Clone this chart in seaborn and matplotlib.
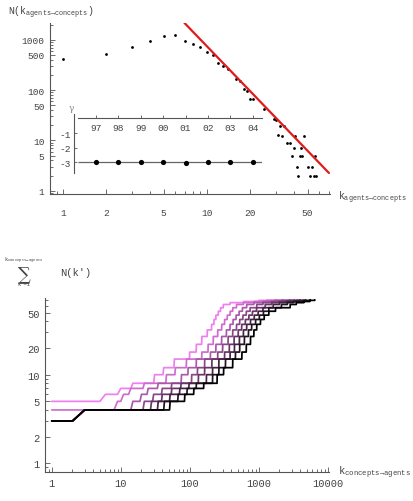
import numpy as np
import pandas as pd
import matplotlib
matplotlib.use("Agg")
import matplotlib.pyplot as plt
import matplotlib.ticker as ticker
import seaborn as sns

# ---------------- data ----------------
# top panel: degree distribution N(k) agents -> concepts
k_agents = [1, 2, 3, 4, 5, 6, 7, 8, 9, 10, 11, 12, 13, 14, 16, 17, 18, 19, 20, 21,
            25, 29, 30, 31, 32, 33, 34, 36, 38, 39, 40, 41, 42, 43, 44, 45, 46, 47,
            50, 52, 54, 55, 56, 57]
n_agents = [420, 510, 720, 930, 1170, 1230, 935, 830, 725, 575, 505, 350, 297, 260,
            165, 150, 105, 97, 66, 66, 42, 26, 25, 13, 19, 12, 19, 9, 9, 5, 7, 12,
            3, 2, 5, 7, 5, 12, 3, 2, 3, 2, 5, 2]

# power-law fit (slope about -3), end points of the red line
fit_k = [6.96, 70.3]
fit_n = [2160, 2.25]

# inset: exponent gamma per year
years = [1997, 1998, 1999, 2000, 2001, 2002, 2003, 2004]
year_labels = ["97", "98", "99", "00", "01", "02", "03", "04"]
gamma = [-2.98, -2.96, -3.0, -3.0, -3.02, -3.0, -3.0, -3.0]

# bottom panel: cumulative sum of N(k') concepts -> agents, one stair curve per year
# every curve starts at 3; k at which each year reaches the given level
start_level = 3
levels = [4, 5, 6, 7, 8, 10, 12, 15, 18, 22, 27, 32, 37, 42, 47, 52, 57, 62, 65, 67, 69, 70]
k_1997 = [1, 1, 6, 10, 15, 31, 42, 60, 100, 125, 150, 180, 208, 225, 240, 260, 280, 307, 384, 600, 1000, 1800]
k_1998 = [1, 9, 11, 14, 22, 46, 62, 90, 150, 185, 220, 255, 291, 320, 350, 385, 420, 477, 600, 850, 1300, 2200]
k_1999 = [3, 15, 20, 25, 35, 76, 95, 125, 200, 240, 290, 340, 384, 425, 470, 520, 580, 669, 850, 1150, 1700, 2800]
k_2000 = [3, 22, 30, 40, 55, 107, 130, 165, 255, 300, 360, 420, 477, 530, 590, 660, 750, 935, 1150, 1500, 2200, 3300]
k_2001 = [3, 28, 40, 55, 75, 134, 165, 210, 320, 375, 440, 505, 566, 640, 720, 810, 930, 1240, 1550, 1950, 2800, 4000]
k_2002 = [3, 35, 52, 72, 98, 175, 215, 265, 385, 445, 525, 600, 669, 760, 860, 980, 1150, 1620, 2000, 2500, 3500, 4800]
k_2003 = [3, 43, 68, 92, 125, 215, 265, 330, 460, 530, 620, 710, 790, 900, 1020, 1170, 1400, 2130, 2600, 3200, 4300, 5600]
k_2004 = [3, 52, 85, 115, 160, 250, 310, 420, 570, 660, 760, 850, 935, 1060, 1200, 1400, 1750, 2850, 3500, 4500, 5500, 6500]
k_by_year = dict(zip(years, [k_1997, k_1998, k_1999, k_2000, k_2001, k_2002, k_2003, k_2004]))

# ---------------- style ----------------
sns.set_style("ticks")
plt.rcParams["font.family"] = ["Liberation Mono", "DejaVu Sans"]
plt.rcParams["mathtext.fontset"] = "custom"
plt.rcParams["mathtext.rm"] = "Liberation Mono"
plt.rcParams["mathtext.it"] = "Liberation Mono"
axis_col = "#555555"
text_col = "#444444"

W, H = 414, 502
fig = plt.figure(figsize=(W / 100, H / 100), dpi=100)


def px_axes(x0, y0, x1, y1):
    # axes from pixel box (left, top, right, bottom)
    return fig.add_axes([x0 / W, 1 - y1 / H, (x1 - x0) / W, (y1 - y0) / H])


def style_axes(ax, size):
    for sp in ["top", "right"]:
        ax.spines[sp].set_visible(False)
    for sp in ["left", "bottom"]:
        ax.spines[sp].set_color(axis_col)
        ax.spines[sp].set_linewidth(0.8)
    ax.tick_params(which="both", direction="in", colors=axis_col, labelcolor=text_col,
                   labelsize=size, width=0.6)
    ax.tick_params(which="major", length=3.5)
    ax.tick_params(which="minor", length=2)
    ax.set_facecolor("none")
    ax.set_xlabel("")
    ax.set_ylabel("")


# ---------------- top panel ----------------
ax1 = px_axes(50, 24, 330, 195)
sns.scatterplot(x=k_agents, y=n_agents, color="black", s=4, linewidth=0, ax=ax1)
sns.lineplot(x=fit_k, y=fit_n, color="#e01b1b", linewidth=1.6, ax=ax1)
ax1.set_xscale("log")
ax1.set_yscale("log")
ax1.set_xlim(0.81, 71.5)
ax1.set_ylim(0.86, 2150)
ax1.set_xticks([1, 2, 5, 10, 20, 50])
ax1.set_yticks([1, 5, 10, 50, 100, 500, 1000])
ax1.xaxis.set_major_formatter(ticker.FuncFormatter(lambda v, p: f"{v:g}"))
ax1.yaxis.set_major_formatter(ticker.FuncFormatter(lambda v, p: f"{v:g}"))
ax1.xaxis.set_minor_locator(ticker.LogLocator(subs=np.arange(2, 10)))
ax1.yaxis.set_minor_locator(ticker.LogLocator(subs=np.arange(2, 10)))
ax1.xaxis.set_minor_formatter(ticker.NullFormatter())
ax1.yaxis.set_minor_formatter(ticker.NullFormatter())
style_axes(ax1, 6.8)
ax1.tick_params(axis="x", pad=10)
ax1.tick_params(axis="y", pad=4)

fig.text(8 / W, 1 - 13 / H, r"N(k$_{\mathrm{agents→concepts}}$)", fontsize=7,
         color=text_col, ha="left", va="center")
fig.text(338 / W, 1 - 198 / H, r"k$_{\mathrm{agents→concepts}}$", fontsize=7,
         color=text_col, ha="left", va="center")

# inset: gamma over the years
ax2 = px_axes(74, 115, 261.7, 174.3)
ax2.hlines(-3, 1996.18, 2004.4, color="#666666", linewidth=0.9)
sns.scatterplot(x=years, y=gamma, color="black", s=14, linewidth=0, ax=ax2, zorder=3)
ax2.set_xlim(1996.02, 2004.4)
ax2.set_ylim(-3.75, 0.3)
ax2.set_xticks(years)
ax2.set_xticklabels(year_labels)
ax2.set_yticks([-1, -2, -3])
ax2.set_yticklabels(["-1", "-2", "-3"])
style_axes(ax2, 6.8)
ax2.spines["bottom"].set_position(("data", 0))
ax2.spines["bottom"].set_bounds(1996.18, 2004.4)
ax2.tick_params(axis="x", pad=3, length=2.5)
ax2.tick_params(axis="y", pad=2.5, length=2.5)
fig.text(71.7 / W, 1 - 108.3 / H, "γ", fontsize=6.5, color="#888888",
         family="DejaVu Serif", ha="center", va="center")

# ---------------- bottom panel ----------------
frames = []
for yr in years:
    jumps = np.array(k_by_year[yr])
    ks = np.arange(1, jumps[-1] + 1)
    idx = np.searchsorted(jumps, ks, side="right")
    vals = np.array([start_level] + levels)
    frames.append(pd.DataFrame({"year": yr, "k": ks, "cum": vals[idx]}))
df_cum = pd.concat(frames, ignore_index=True)

palette = dict(zip(years, sns.blend_palette(["#f07ef0", "black"], len(years))))

ax3 = px_axes(45.3, 299.3, 329, 473.3)
sns.lineplot(data=df_cum, x="k", y="cum", hue="year", palette=palette,
             estimator=None, linewidth=1.25, legend=False, ax=ax3)
ax3.set_xscale("log")
ax3.set_yscale("log")
ax3.set_xlim(0.807, 10440)
ax3.set_ylim(0.791, 72.8)
ax3.set_xticks([1, 10, 100, 1000, 10000])
ax3.set_yticks([1, 2, 5, 10, 20, 50])
ax3.xaxis.set_major_formatter(ticker.FuncFormatter(lambda v, p: f"{v:g}"))
ax3.yaxis.set_major_formatter(ticker.FuncFormatter(lambda v, p: f"{v:g}"))
ax3.xaxis.set_minor_locator(ticker.LogLocator(subs=np.arange(2, 10)))
ax3.yaxis.set_minor_locator(ticker.LogLocator(subs=np.arange(2, 10)))
ax3.xaxis.set_minor_formatter(ticker.NullFormatter())
ax3.yaxis.set_minor_formatter(ticker.NullFormatter())
style_axes(ax3, 7.5)
ax3.tick_params(axis="x", pad=4)
ax3.tick_params(axis="y", pad=4)

fig.text(338 / W, 1 - 473 / H, r"k$_{\mathrm{concepts→agents}}$", fontsize=7.5,
         color=text_col, ha="left", va="center")
# sum label on the y axis
fig.text(24 / W, 1 - 261 / H, "k$_{\\mathrm{concepts→agents}}$", fontsize=4,
         color=text_col, ha="center", va="center")
fig.text(24 / W, 1 - 274 / H, "∑", fontsize=13, color=text_col,
         family="DejaVu Serif", ha="center", va="center")
fig.text(24 / W, 1 - 285 / H, "k'=1", fontsize=4, color=text_col,
         ha="center", va="center")
fig.text(60 / W, 1 - 273 / H, "N(k')", fontsize=7.5, color=text_col,
         ha="left", va="center")

fig.savefig("out.png", dpi=100)
